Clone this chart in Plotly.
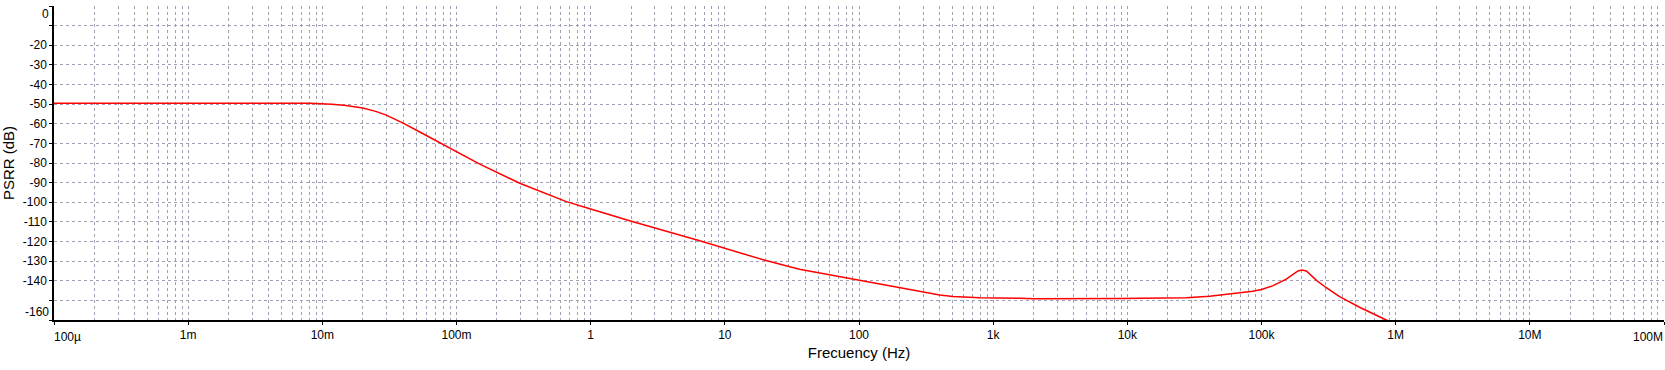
import plotly.graph_objects as go

freq_hz = [1e-4, 1e-3, 5e-3, 8e-3, 1.18e-2, 1.5e-2, 2e-2, 2.5e-2, 3e-2, 4e-2, 5.5e-2, 7.9e-2, 0.1, 0.149,
           0.296, 0.659, 1.0, 1.95, 6.5, 10, 15.3, 19.9, 36, 96, 200, 300, 400, 500, 600, 800, 1580,
           2000, 9000, 27500, 41000, 61000, 86000, 100000, 122000, 153000, 187000, 200000, 216000,
           257000, 300000, 382000, 538000, 828000, 1000000]
psrr_db = [-49.5, -49.5, -49.5, -49.6, -50.0, -50.7, -52.0, -53.7, -55.6, -59.7, -64.7, -70.4, -74.2, -80.6,
           -90.3, -99.7, -103.4, -109.4, -119.6, -123.4, -127.2, -129.6, -134.1, -139.6, -143.8, -146.0,
           -147.3, -148.0, -148.4, -148.7, -148.9, -149.2, -149.1, -148.6, -147.9, -146.7, -145.4, -144.5,
           -142.5, -139.2, -135.0, -134.5, -135.0, -139.8, -143.3, -148.1, -153.5, -159.6, -162.4]

x_tick_vals = [1e-4, 1e-3, 1e-2, 1e-1, 1, 10, 100, 1e3, 1e4, 1e5, 1e6, 1e7, 1e8]
x_tick_text = ["100µ", "1m", "10m", "100m", "1", "10", "100", "1k", "10k", "100k", "1M", "10M", "100M"]
y_tick_vals = [0, -10, -20, -30, -40, -50, -60, -70, -80, -90, -100, -110, -120, -130, -140, -150, -160]
y_tick_text = ["0", "", "-20", "-30", "-40", "-50", "-60", "-70", "-80", "-90", "-100", "-110", "-120",
               "-130", "-140", "", "-160"]

minor_vals = [m * 10 ** e for e in range(-4, 8) for m in range(2, 10)]

GRID = "#a0a0b4"
FONT = "Liberation Sans, Arial, sans-serif"

fig = go.Figure()
fig.add_trace(go.Scatter(x=freq_hz, y=psrr_db, mode="lines",
                         line=dict(color="#ff0000", width=1.5), showlegend=False))

x_text_axis = ["" if i in (0, len(x_tick_text) - 1) else t for i, t in enumerate(x_tick_text)]
y_text_axis = ["" if v in (0, -160) else t for v, t in zip(y_tick_vals, y_tick_text)]

fig.update_layout(
    width=1665, height=370,
    margin=dict(l=54, r=1, t=6, b=50),
    paper_bgcolor="white", plot_bgcolor="white",
    font=dict(family=FONT, size=12, color="black"),
    xaxis=dict(
        type="log", range=[-4, 8], automargin=False,
        tickmode="array", tickvals=x_tick_vals, ticktext=x_text_axis,
        ticks="outside", ticklen=3, tickcolor="black",
        showline=True, linecolor="black", linewidth=1.5,
        showgrid=True, gridcolor=GRID, griddash="3px,3px", gridwidth=1,
        minor=dict(tickmode="array", tickvals=minor_vals, showgrid=True,
                   gridcolor=GRID, griddash="3px,3px", gridwidth=1, ticks=""),
        zeroline=False,
        title=dict(text="Frecuency (Hz)", font=dict(size=15, family=FONT), standoff=6),
        tickfont=dict(size=12, family=FONT),
    ),
    yaxis=dict(
        range=[-160, 0], automargin=False,
        tickmode="array", tickvals=y_tick_vals, ticktext=y_text_axis,
        ticks="outside", ticklen=3, tickcolor="black",
        showline=True, linecolor="black", linewidth=1.5,
        showgrid=True, gridcolor=GRID, griddash="3px,3px", gridwidth=1,
        zeroline=False,
        title=dict(text="PSRR (dB)", font=dict(size=15, family=FONT), standoff=6),
        tickfont=dict(size=12, family=FONT),
    ),
)

annots = []
annots.append(dict(x=-4, y=0, xref="x", yref="paper", text=x_tick_text[0], showarrow=False,
                   xanchor="left", yanchor="middle", yshift=-17, xshift=-2, font=dict(size=12, family=FONT)))
annots.append(dict(x=8, y=0, xref="x", yref="paper", text=x_tick_text[-1], showarrow=False,
                   xanchor="right", yanchor="middle", yshift=-17, xshift=1, font=dict(size=12, family=FONT)))
annots.append(dict(x=0, y=0, xref="paper", yref="y", text=y_tick_text[0], showarrow=False,
                   xanchor="right", yanchor="middle", xshift=-3, yshift=-8, font=dict(size=12, family=FONT)))
annots.append(dict(x=0, y=-160, xref="paper", yref="y", text=y_tick_text[-1], showarrow=False,
                   xanchor="right", yanchor="middle", xshift=-3, yshift=8, font=dict(size=12, family=FONT)))
fig.update_layout(annotations=annots)

fig.write_html("out.html", config={"displayModeBar": False},
               post_script="document.body.style.margin='0';document.body.style.overflow='hidden';")
